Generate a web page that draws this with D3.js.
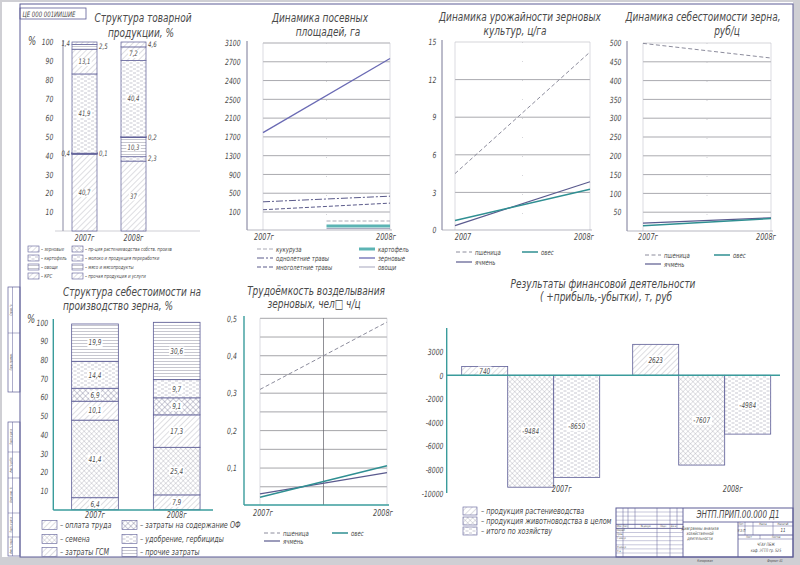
<!DOCTYPE html>
<html>
<head>
<meta charset="utf-8">
<script src="https://cdn.jsdelivr.net/npm/d3@7"></script>
<style>
  body { margin: 0; background: #fff; }
  svg { color: #4a4a4a; }
  svg text { font-family: "Liberation Sans Narrow", "DejaVu Sans Condensed", sans-serif; font-style: italic; }
</style>
</head>
<body>
<svg id="sheet" width="800" height="565"></svg>
<script>
// ---- data read from the sheet ----
const years = ['2007г', '2008г'];
const yearNums = [2007, 2008];

// Структура товарной продукции, %
const prodCats = ['зерновые', 'картофель', 'овощи', 'пр-ция растениеводства собств. произв',
  'молоко и продукция переработки', 'КРС', 'мясо и мясопродукты', 'прочая продукция и услуги'];
const prod2007 = [40.7, 0.4, 0.1, 0, 41.9, 13.1, 2.5, 1.4];
const prod2008 = [37, 2.3, 10.3, 0.2, 40.4, 7.2, 0, 4.6];
const pctTicks = [10, 20, 30, 40, 50, 60, 70, 80, 90, 100];

// Динамика посевных площадей, га
const areaTicks = [100, 500, 900, 1300, 1700, 2100, 2500, 2900, 3300, 3700];
const areaTickLabels = ['100', '500', '900', '1300', '1700', '2100', '2500', '2400', '2700', '3100'];
const areaGrain = [1790, 3370];
const areaAnnualGrass = [317, 437];
const areaPerennialGrass = [148, 289];
const areaLateYears = [2007.5, 2008];
const areaCorn = [50, 50];
const areaPotato = [22, 22];
const areaVeg = [8, 8];

// Динамика урожайности зерновых культур, ц/га
const yieldTicks = [0, 3, 6, 9, 12, 15];
const yieldWheat = [4.5, 14.2];
const yieldBarley = [0.35, 3.85];
const yieldOats = [0.75, 3.25];

// Динамика себестоимости зерна, руб/ц
const costTicks = [50, 100, 150, 200, 250, 300, 350, 400, 450, 500];
const costWheat = [499, 460];
const costBarley = [21, 35];
const costOats = [14, 33];

// Структура себестоимости на производство зерна, %
const costCats = ['оплата труда', 'семена', 'затраты ГСМ', 'затраты на содержание ОФ', 'удобрение, гербициды', 'прочие затраты'];
const cost2007 = [6.4, 41.4, 10.1, 6.9, 14.4, 19.9];
const cost2008 = [7.9, 25.4, 17.3, 9.1, 9.7, 30.6];

// Трудоёмкость возделывания зерновых
const laborTicks = [0.1, 0.2, 0.3, 0.4, 0.5];
const laborGrid = [0.05, 0.1, 0.15, 0.2, 0.25, 0.3, 0.35, 0.4, 0.45, 0.5];
const laborWheat = [0.31, 0.49];
const laborBarley = [0.031, 0.088];
const laborOats = [0.022, 0.106];

// Результаты финансовой деятельности, т. руб
const finCats = ['продукция растениеводства', 'продукция животноводства в целом', 'итого по хозяйству'];
const finCrop = [740, 2623];
const finLivestock = [-9484, -7607];
const finTotal = [-8650, -4984];
const finTicks = [-10000, -8000, -6000, -4000, -2000, 0, 2000];
const finTickLabels = ['-10000', '-8000', '-6000', '-4000', '-2000', '0', '3000'];

// ---- drawing ----
const svg = d3.select('#sheet');
const defs = svg.append('defs');
const INK = '#4a4a4a';
const FRAME = '#5c5c96';
const TEAL = '#3a9c9c';
const SX = 0.8; // narrow drafting lettering
const comma = v => String(v).replace('.', ',');

function addPattern(id, w, h, angle, d, stroke, sw) {
  const p = defs.append('pattern').attr('id', id)
    .attr('patternUnits', 'userSpaceOnUse').attr('width', w).attr('height', h);
  if (angle) p.attr('patternTransform', `rotate(${angle})`);
  p.append('rect').attr('width', w).attr('height', h).attr('fill', '#fff');
  p.append('path').attr('d', d).attr('stroke', stroke).attr('stroke-width', sw || 0.6).attr('fill', 'none');
}
addPattern('diag', 4, 4, 45, 'M0,0V4', '#8e8e9e');
addPattern('cross', 3.5, 3.5, 45, 'M0,0V3.5M0,0H3.5', '#8e8e9e', 0.5);
addPattern('dash', 7, 4, 0, 'M0,1H3M3.5,3H6.5', '#a0a0b0');
addPattern('horiz', 4, 3, 0, 'M0,1.5H4', '#8e8e9e', 0.5);
addPattern('darkcross', 4, 4, -45, 'M0,0V4M0,0H4', '#6e6e8e', 0.7);

function txt(g, x, y, t, size, anchor, opts) {
  const rot = opts && opts.rot ? ` rotate(${opts.rot})` : '';
  const w = g.append('g').attr('transform', `translate(${x},${y})${rot} scale(${SX},1)`);
  return w.append('text').attr('font-size', size)
    .attr('text-anchor', anchor || 'start').attr('fill', INK).text(t);
}
function boxedLabel(g, x, y, t, size) {
  const te = txt(g, x, y + size * 0.35, t, size, 'middle');
  const b = te.node().getBBox();
  d3.select(te.node().parentNode).insert('rect', () => te.node())
    .attr('x', b.x - 1.5).attr('y', b.y + 0.5).attr('width', b.width + 3)
    .attr('height', b.height - 1).attr('fill', '#fff');
}
function hline(g, x1, x2, y, color, w, dash) {
  return g.append('line').attr('x1', x1).attr('x2', x2).attr('y1', y).attr('y2', y)
    .attr('stroke', color).attr('stroke-width', w || 0.6).attr('stroke-dasharray', dash || null);
}
function vline(g, x, y1, y2, color, w, dash) {
  return g.append('line').attr('x1', x).attr('x2', x).attr('y1', y1).attr('y2', y2)
    .attr('stroke', color).attr('stroke-width', w || 0.6).attr('stroke-dasharray', dash || null);
}
function leftAxis(g, x, y, ticks, labels, pad, size) {
  const ax = g.append('g').attr('transform', `translate(${x},0)`)
    .call(d3.axisLeft(y).tickValues(ticks).tickSize(0).tickPadding(pad)
      .tickFormat((d, i) => labels ? labels[i] : comma(d)));
  ax.select('.domain').remove();
  ax.attr('font-family', null).attr('font-size', size || 8.5);
  ax.selectAll('text').attr('transform', `scale(${SX},1)`);
  return ax;
}

// sheet and frame
svg.append('rect').attr('width', 800).attr('height', 565).attr('fill', '#cfcfd4');
svg.append('rect').attr('x', 2).attr('y', 2).attr('width', 791).attr('height', 555).attr('fill', '#fff');
svg.append('rect').attr('x', 20).attr('y', 4).attr('width', 773).attr('height', 553)
  .attr('fill', 'none').attr('stroke', FRAME).attr('stroke-width', 1);
const stamp = svg.append('g');
stamp.append('rect').attr('x', 20).attr('y', 8).attr('width', 66).attr('height', 11)
  .attr('fill', 'none').attr('stroke', FRAME).attr('stroke-width', 0.8);
txt(stamp, 22.5, 16.5, 'ЦЕ 000 001ИИШИЕ', 7.5);

// left margin boxes
const margin = svg.append('g');
[[287, 392, [333]], [422, 556, [452, 478, 513, 537]]].forEach(([y1, y2, cuts]) => {
  margin.append('rect').attr('x', 8).attr('y', y1).attr('width', 12).attr('height', y2 - y1)
    .attr('fill', 'none').attr('stroke', FRAME).attr('stroke-width', 0.7);
  vline(margin, 12.5, y1, y2, FRAME, 0.5);
  cuts.forEach(c => hline(margin, 8, 20, c, FRAME, 0.5));
});
[['Справ. №', 310], ['Перв. примен.', 362], ['Подп. и дата', 437], ['Инв. № дубл.', 465],
 ['Взам. инв. №', 495], ['Подп. и дата', 525], ['Инв. № подл.', 546]].forEach(([t, y]) =>
  txt(margin, 11.5, y, t, 3.2, 'middle', { rot: -90 }));

// ===== 1. Структура товарной продукции =====
{
  const g = svg.append('g');
  txt(g, 143, 22, 'Структура товарной', 12.5, 'middle');
  txt(g, 141, 37, 'продукции, %', 12.5, 'middle');
  const y = d3.scaleLinear().domain([0, 100]).range([231, 42]).clamp(true);
  const x = d3.scalePoint().domain(years).range([84.5, 133.5]);
  const bw = 25;
  vline(g, 63, 40, 231, '#6a6a8a', 0.8);
  hline(g, 55, 200, 231, '#b0b0b8', 0.6);
  leftAxis(g, 63, y, pctTicks, null, 12, 8.5);
  txt(g, 28, 45, '%', 12);
  const rows = years.map((yr, j) => Object.assign({ year: yr },
    Object.fromEntries(prodCats.map((c, i) => [c, [prod2007, prod2008][j][i]]))));
  const series = d3.stack().keys(prodCats)(rows);
  const pats = ['diag', 'dash', 'horiz', 'cross', 'dash', 'diag', 'horiz', 'diag'];
  const sides = [['c', 'l', 'r', '-', 'c', 'c', 'r', 'l'], ['c', 'r', 'c', 'r', 'c', 'c', '-', 'r']];
  series.forEach((s, i) => {
    s.forEach((d, j) => {
      const v = d.data[s.key];
      if (!v) return;
      const cx = x(d.data.year);
      g.append('rect').attr('x', cx - bw / 2).attr('y', y(d[1])).attr('width', bw)
        .attr('height', Math.max(0.1, y(d[0]) - y(d[1])))
        .attr('fill', `url(#${pats[i]})`).attr('stroke', FRAME).attr('stroke-width', v < 1 ? 1.3 : 0.7);
      const side = sides[j][i];
      const my = (y(d[0]) + y(d[1])) / 2;
      if (side === 'c') boxedLabel(g, cx, my, comma(v), 7.5);
      else if (side === 'l') txt(g, cx - bw / 2 - 2, my + 2.5, comma(v), 7.5, 'end');
      else if (side === 'r') txt(g, cx + bw / 2 + 2, my + 2.5, comma(v), 7.5);
    });
  });
  years.forEach(yr => txt(g, x(yr), 241, yr, 9, 'middle'));
  const legendPos = [[28, 249], [28, 258], [28, 267], [72, 249], [72, 258], [72, 267], [72, 276], [28, 276]];
  const legendOrder = [0, 1, 2, 3, 4, 6, 7, 5];
  legendOrder.forEach((ci, k) => {
    const [lx, ly] = legendPos[k];
    g.append('rect').attr('x', lx).attr('y', ly - 3).attr('width', 11).attr('height', 6)
      .attr('fill', `url(#${pats[ci]})`).attr('stroke', FRAME).attr('stroke-width', 0.6);
    txt(g, lx + 13, ly + 2, '– ' + prodCats[ci], 5.5);
  });
}

// ===== generic line chart =====
function lineChart(o) {
  const g = svg.append('g');
  const x = d3.scaleLinear().domain([2007, 2008]).range(o.xr);
  const y = o.y;
  o.titles.forEach(([t, tx, ty]) => txt(g, tx, ty, t, 12.5, 'middle'));
  o.grid.forEach(v => hline(g, o.xr[0], o.xr[1], y(v), o.gridColor || '#707078', 0.6));
  const topV = o.topLine !== undefined ? o.topLine : o.grid[o.grid.length - 1];
  if (o.topLine !== undefined) hline(g, o.xr[0], o.xr[1], y(o.topLine), '#b8b8c0', 0.6);
  vline(g, o.xr[0], y(topV), o.base, '#c4c4cc', 0.6);
  vline(g, o.xr[1], y(topV), o.base, '#c4c4cc', 0.6);
  const mx = (o.xr[0] + o.xr[1]) / 2;
  if (o.midSolid) vline(g, mx, o.top, o.base, '#606068', 0.7);
  else vline(g, mx, o.top, o.base, '#b8b8c0', 0.6, '1,18');
  vline(g, o.axisX, o.top - 2, o.base, o.axisColor, o.axisW || 0.9);
  hline(g, o.axisX, o.xr[1] + 2, o.base, o.axisColor === TEAL ? TEAL : '#9a9aa6', o.axisColor === TEAL ? 1.3 : 0.7);
  leftAxis(g, o.axisX, y, o.ticks, o.tickLabels, o.pad, 8.5);
  const line = d3.line().x(d => x(d[0])).y(d => y(d[1]));
  o.series.forEach(s => {
    g.append('path').datum(d3.zip(s.years || yearNums, s.values)).attr('d', line)
      .attr('fill', 'none').attr('stroke', s.color).attr('stroke-width', s.w)
      .attr('stroke-dasharray', s.dash || null);
  });
  o.xlabels.forEach(([t, tx]) => txt(g, tx, o.xlabY, t, 9, 'middle'));
  o.legend.forEach(([t, lx, ly, s]) => {
    hline(g, lx, lx + 16, ly, s.color, s.w, s.dash);
    txt(g, lx + 19, ly + 2.5, t, 7.5);
  });
  return g;
}

const sWheat = { color: '#8c8c9c', w: 1, dash: '4,2.5' };
const sBarley = { color: '#5a5a8e', w: 1.2 };
const sOats = { color: '#2f8f92', w: 1.5 };

// ===== 2. Посевные площади =====
{
  const sGrain = { color: '#6a6ab4', w: 1.3 };
  const sAnnual = { color: '#5a5a8a', w: 1, dash: '7,2,2,2' };
  const sPerenn = { color: '#5a5a8a', w: 1, dash: '4,2' };
  const sCorn = { color: '#a0a0ae', w: 0.9, dash: '4,2' };
  const sPotato = { color: '#5cb4b4', w: 3 };
  const sVeg = { color: '#8080a0', w: 0.7 };
  lineChart({
    xr: [263, 390], y: d3.scaleLinear().domain([0, 100, 3700]).range([230, 212, 43]),
    axisX: 247, top: 43, base: 230, axisColor: '#6a6a8a', pad: 8,
    grid: areaTicks, ticks: areaTicks, tickLabels: areaTickLabels,
    titles: [['Динамика посевных', 320, 22], ['площадей, га', 328, 36]],
    series: [
      Object.assign({ values: areaGrain }, sGrain),
      Object.assign({ values: areaAnnualGrass }, sAnnual),
      Object.assign({ values: areaPerennialGrass }, sPerenn),
      Object.assign({ years: areaLateYears, values: areaCorn }, sCorn),
      Object.assign({ years: areaLateYears, values: areaPotato }, sPotato),
      Object.assign({ years: areaLateYears, values: areaVeg }, sVeg)
    ],
    xlabY: 240, xlabels: [['2007г', 264], ['2008г', 386]],
    legend: [['кукуруза', 257, 249, sCorn], ['однолетние травы', 257, 258, sAnnual],
      ['многолетние травы', 257, 267, sPerenn], ['картофель', 359, 249, sPotato],
      ['зерновые', 359, 258, sGrain], ['овощи', 359, 267, sVeg]]
  });
}

// ===== 3. Урожайность =====
lineChart({
  xr: [455, 590], y: d3.scaleLinear().domain([0, 15]).range([230, 42]),
  axisX: 442, top: 42, base: 230, axisColor: '#6a6a8a', pad: 7,
  grid: [3, 6, 9, 12], topLine: 15, ticks: yieldTicks,
  titles: [['Динамика урожайности зерновых', 520, 21], ['культур, ц/га', 515, 35]],
  series: [
    Object.assign({ values: yieldWheat }, sWheat),
    Object.assign({ values: yieldBarley }, sBarley),
    Object.assign({ values: yieldOats }, sOats)
  ],
  xlabY: 240, xlabels: [['2007', 463], ['2008г', 584]],
  legend: [['пшеница', 456, 252, sWheat], ['овес', 522, 252, sOats], ['ячмень', 456, 262, sBarley]]
});

// ===== 4. Себестоимость =====
lineChart({
  xr: [643, 771], y: d3.scaleLinear().domain([0, 500]).range([231, 43]),
  axisX: 627, top: 43, base: 231, axisColor: '#6a6a8a', pad: 7,
  grid: costTicks.slice(0, -1), topLine: 500, ticks: costTicks,
  titles: [['Динамика себестоимости зерна,', 703, 21], ['руб/ц', 727, 35]],
  series: [
    Object.assign({ values: costWheat }, sWheat),
    Object.assign({ values: costBarley }, sBarley),
    Object.assign({ values: costOats }, sOats)
  ],
  xlabY: 240, xlabels: [['2007г', 648], ['2008г', 766]],
  legend: [['пшеница', 645, 255, sWheat], ['овес', 714, 255, sOats], ['ячмень', 645, 264, sBarley]]
});

// ===== 5. Структура себестоимости на производство зерна =====
{
  const g = svg.append('g');
  txt(g, 63, 296, 'Структура себестоимости на', 12.5);
  txt(g, 63, 310, 'производство зерна, %', 12.5);
  const y = d3.scaleLinear().domain([0, 100]).range([509.7, 322.3]).clamp(true);
  const x = d3.scalePoint().domain(years).range([95, 176.7]);
  const bw = 46.7;
  leftAxis(g, 53, y, pctTicks, null, 6, 8.5);
  txt(g, 27, 323, '%', 12);
  const rows = years.map((yr, j) => Object.assign({ year: yr },
    Object.fromEntries(costCats.map((c, i) => [c, [cost2007, cost2008][j][i]]))));
  const series = d3.stack().keys(costCats)(rows);
  const pats = ['diag', 'cross', 'diag', 'darkcross', 'dash', 'horiz'];
  series.forEach((s, i) => s.forEach(d => {
    const cx = x(d.data.year);
    g.append('rect').attr('x', cx - bw / 2).attr('y', y(d[1])).attr('width', bw)
      .attr('height', y(d[0]) - y(d[1])).attr('fill', `url(#${pats[i]})`)
      .attr('stroke', FRAME).attr('stroke-width', 0.8);
    boxedLabel(g, cx, (y(d[0]) + y(d[1])) / 2, comma(d.data[s.key]), 8);
  }));
  vline(g, 53.3, 319, 510, TEAL, 1.4);
  hline(g, 53.3, 213, 510, TEAL, 1.4);
  years.forEach(yr => txt(g, x(yr), 518, yr, 9, 'middle'));
  const pos = [[42, 525], [42, 539], [42, 552], [122, 525], [122, 539], [122, 552]];
  costCats.forEach((c, i) => {
    const [lx, ly] = pos[i];
    g.append('rect').attr('x', lx).attr('y', ly - 4.5).attr('width', 15).attr('height', 9)
      .attr('fill', `url(#${pats[i]})`).attr('stroke', FRAME).attr('stroke-width', 0.6);
    txt(g, lx + 18, ly + 3, '– ' + c, 9);
  });
}

// ===== 6. Трудоёмкость =====
lineChart({
  xr: [260, 387], y: d3.scaleLinear().domain([0, 0.5]).range([505.5, 318.3]),
  axisX: 244, top: 318, base: 505, axisColor: TEAL, axisW: 1.4, pad: 9, midSolid: true,
  grid: laborGrid, ticks: laborTicks, gridColor: '#68686e',
  titles: [['Трудоёмкость возделывания', 316, 295], ['зерновых, чел□  ч/ц', 314, 308]],
  series: [
    Object.assign({ values: laborWheat }, sWheat),
    Object.assign({ values: laborBarley }, sBarley),
    Object.assign({ values: laborOats }, sOats)
  ],
  xlabY: 516, xlabels: [['2007г', 263], ['2008г', 383]],
  legend: [['пшеница', 264, 533, sWheat], ['овес', 332, 533, sOats], ['ячмень', 264, 541, sBarley]]
});

// ===== 7. Финансовые результаты =====
{
  const g = svg.append('g');
  txt(g, 603, 288, 'Результаты финансовой деятельности', 12.5, 'middle');
  txt(g, 606, 301, '( +прибыль,-убытки), т, руб', 12.5, 'middle');
  const y = d3.scaleLinear().domain([-10000, 0]).range([493.3, 375.3]);
  const gx = d3.scalePoint().domain(years).range([461.7, 632.7]);
  const bx = d3.scaleBand().domain(finCats).range([0, 138]);
  leftAxis(g, 445, y, finTicks, finTickLabels, 2, 8.5);
  const pats = ['diag', 'cross', 'dash'];
  const vals = [finCrop, finLivestock, finTotal];
  years.forEach((yr, j) => {
    finCats.forEach((c, i) => {
      const v = vals[i][j];
      const x0 = gx(yr) + bx(c);
      const top = Math.min(y(v), y(0)), h = Math.abs(y(v) - y(0));
      g.append('rect').attr('x', x0).attr('y', top).attr('width', bx.bandwidth()).attr('height', h)
        .attr('fill', `url(#${pats[i]})`).attr('stroke', FRAME).attr('stroke-width', 0.8);
      boxedLabel(g, x0 + bx.bandwidth() / 2, top + h / 2, String(v), 8);
    });
    txt(g, gx(yr) + 100, 492, yr, 9, 'middle');
  });
  vline(g, 446.7, 328, 493, TEAL, 1.4);
  hline(g, 446.7, 780, y(0), TEAL, 1.4);
  finCats.forEach((c, i) => {
    const ly = 511 + i * 10;
    g.append('rect').attr('x', 463).attr('y', ly - 4).attr('width', 14).attr('height', 8)
      .attr('fill', `url(#${pats[i]})`).attr('stroke', FRAME).attr('stroke-width', 0.6);
    txt(g, 481, ly + 3, '– ' + c, 9);
  });
}

// ===== основная надпись =====
{
  const g = svg.append('g');
  const L = 616, R = 793, T = 508, B = 557;
  g.append('rect').attr('x', L).attr('y', T).attr('width', R - L).attr('height', B - T)
    .attr('fill', 'none').attr('stroke', FRAME).attr('stroke-width', 1);
  [623, 628, 635, 657, 670, 677].forEach(cx => vline(g, cx, T, 528, FRAME, 0.5));
  [623, 657, 670].forEach(cx => vline(g, cx, 528, B, FRAME, 0.5));
  vline(g, 683, T, B, FRAME, 0.9);
  for (let ry = 512; ry < B; ry += 4.1) hline(g, L, 683, ry, FRAME, ry > 523 && ry < 529 ? 0.9 : 0.35);
  hline(g, 683, R, 522, FRAME, 0.9);
  vline(g, 738, 522, B, FRAME, 0.9);
  hline(g, 738, R, 526, FRAME, 0.5);
  hline(g, 738, R, 535, FRAME, 0.9);
  hline(g, 738, R, 539, FRAME, 0.5);
  [745, 753, 773].forEach(cx => vline(g, cx, 522, 535, FRAME, 0.5));
  vline(g, 760, 535, 539, FRAME, 0.5);
  txt(g, 738, 518, 'ЭНТП.ПРИП.00.000 Д1', 10, 'middle');
  txt(g, 700, 530, 'Диаграммы анализа', 4.8, 'middle');
  txt(g, 700, 535, 'хозяйственной', 4.8, 'middle');
  txt(g, 700, 540, 'деятельности', 4.8, 'middle');
  txt(g, 741.5, 525, 'Лит.', 3.2, 'middle');
  txt(g, 763, 525, 'Масса', 3.2, 'middle');
  txt(g, 783, 525, 'Масштаб', 3.2, 'middle');
  txt(g, 741.5, 532, 'У.Э.П', 4, 'middle');
  txt(g, 783, 532, '11', 5.5, 'middle');
  txt(g, 749, 538, 'Лист', 3.2, 'middle');
  txt(g, 776, 538, 'Листов', 3.2, 'middle');
  txt(g, 766, 546, 'ЧГАУ ПБЖ', 4.5, 'middle');
  txt(g, 766, 552, 'каф. ЭТТП гр. 525', 4.5, 'middle');
  [['Изм.', 619.5], ['Лист', 625.5], ['№ докум.', 646], ['Подп.', 663.5], ['Дата', 673.5]]
    .forEach(([t, tx]) => txt(g, tx, 527, t, 3, 'middle'));
  [['Разраб.', 531], ['Пров.', 535], ['Т.контр.', 539], ['Н.контр.', 548], ['Утв.', 552]]
    .forEach(([t, ty]) => txt(g, 617, ty, t, 3));
  txt(g, 705, 562, 'Копировал', 3.8, 'middle');
  txt(g, 775, 562, 'Формат А1', 3.8, 'middle');
}
</script>
</body>
</html>
